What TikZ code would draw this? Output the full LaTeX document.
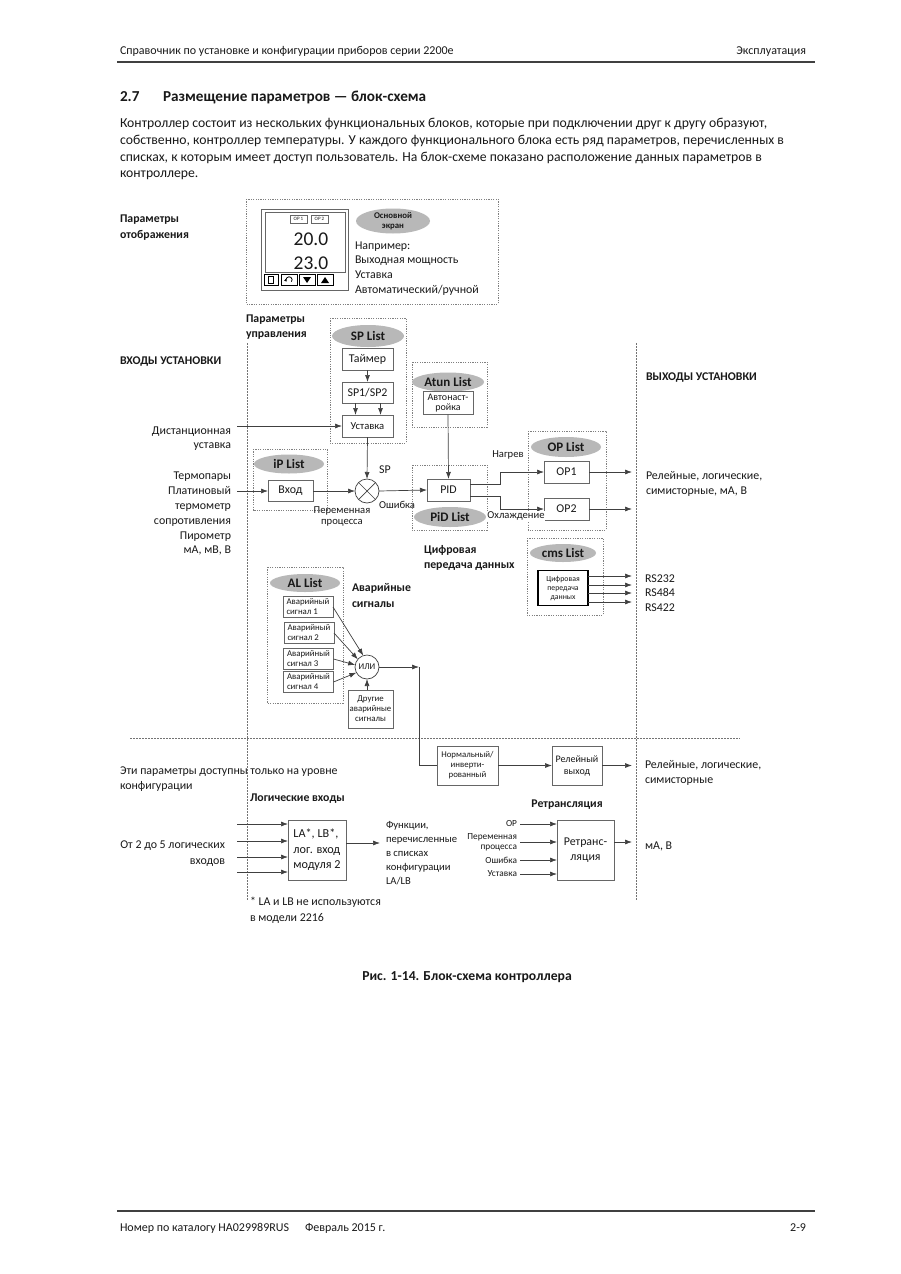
\documentclass[tikz,border=0pt]{standalone}
\usepackage{fontspec}
\setmainfont{Carlito}
\usetikzlibrary{arrows.meta,shapes.geometric,calc}
\begin{document}
\begin{tikzpicture}[x=1pt,y=-1pt,
  every node/.style={inner sep=0pt, outer sep=0pt, text=black!90},
  dbox/.style={draw=black!50, line width=0.7pt, dash pattern=on 1.2pt off 1.2pt},
  dline/.style={draw=black!55, line width=0.7pt, dash pattern=on 1.5pt off 1.5pt},
  blk/.style={draw=black!60, line width=0.7pt, fill=white, align=center},
  lst/.style={ellipse, fill=black!28, font=\fontsize{13}{13}\selectfont\bfseries, minimum width=72, minimum height=20},
  arr/.style={draw=black!75, line width=0.7pt, -{Latex[length=7pt,width=5pt]}},
  ln/.style={draw=black!75, line width=0.7pt},
  T/.style={font=\fontsize{11.9}{15}\selectfont},
  S/.style={font=\fontsize{10.6}{11.5}\selectfont},
  XS/.style={font=\fontsize{8.8}{10}\selectfont},
  RS/.style={font=\fontsize{9.3}{10}\selectfont},
  B/.style={font=\fontsize{11.8}{14}\selectfont\bfseries},
  P/.style={font=\fontsize{13.7}{17}\selectfont, anchor=base west}
]
\useasboundingbox (0,0) rectangle (900,1274);
\fill[white] (0,0) rectangle (900,1274);

% header
\node[anchor=base west, font=\fontsize{12}{14}\selectfont] (hd1) at (120,54) {Справочник по установке и конфигурации приборов серии 2200e};
\node[anchor=base east, font=\fontsize{12}{14}\selectfont] (hd2) at (806,54) {Эксплуатация};
\draw[line width=1.8pt, black!75] (117,62) -- (815,62);

% section
\node[anchor=base west, font=\fontsize{15.2}{17}\selectfont\bfseries] (secn) at (120,101) {2.7};
\node[anchor=base west, font=\fontsize{15.2}{17}\selectfont\bfseries] (sect) at (163,101) {Размещение параметров — блок-схема};
\node[P] (p1) at (120,127) {Контроллер состоит из нескольких функциональных блоков, которые при подключении друг к другу образуют,};
\node[P] (p2) at (120,144) {собственно, контроллер температуры. У каждого функционального блока есть ряд параметров, перечисленных в};
\node[P] (p3) at (120,161) {списках, к которым имеет доступ пользователь. На блок-схеме показано расположение данных параметров в};
\node[P] (p4) at (120,177) {контроллере.};

% display
\node[B, anchor=base west] (pd1) at (120,222) {Параметры};
\node[B, anchor=base west] (pd2) at (120,238) {отображения};
\draw[dbox] (246,199) rectangle (498,304);
\draw[black!60, line width=0.7pt] (261,209) rectangle (348,290);
\draw[black!60, line width=0.7pt] (265,212) rectangle (345,272);
\node[draw=black!60, line width=0.4pt, minimum width=17, minimum height=8, font=\fontsize{5}{5}\selectfont] (op1s) at (298.5,219) {OP 1};
\node[draw=black!60, line width=0.4pt, minimum width=17, minimum height=8, font=\fontsize{5}{5}\selectfont] (op2s) at (319.5,219) {OP 2};
\node[font=\fontsize{19.5}{20}\selectfont] (v1) at (311,239) {20.0};
\node[font=\fontsize{19.5}{20}\selectfont] (v2) at (311,263) {23.0};
\draw[black, line width=1pt] (264,274) rectangle (278,285);
\draw[black, line width=1pt] (281,274) rectangle (297,285);
\draw[black, line width=1pt] (299,274) rectangle (315,285);
\draw[black, line width=1pt] (317,274) rectangle (333,285);
\draw[black, line width=0.5pt] (268.5,276.5) rectangle (273.5,283);
\draw[black, line width=0.8pt, -{Latex[length=2.5pt,width=3pt]}] (291.4,281.7) arc[start angle=-40, end angle=220, x radius=3pt, y radius=3pt];
\fill[black] (303,277) -- (311,277) -- (307,283) -- cycle;
\fill[black] (321,283) -- (329,283) -- (325,277) -- cycle;
\node[ellipse, fill=black!28, minimum width=74, minimum height=25, align=center, font=\fontsize{8.8}{10}\selectfont\bfseries] (mainscr) at (393,221) {Основной\\экран};
\node[T, anchor=base west] (ex1) at (355,249) {Например:};
\node[T, anchor=base west] (ex2) at (355,263) {Выходная мощность};
\node[T, anchor=base west] (ex3) at (355,278) {Уставка};
\node[T, anchor=base west] (ex4) at (355,293) {Автоматический/ручной};

% section labels
\node[B, anchor=base west] (pu1) at (246,322) {Параметры};
\node[B, anchor=base west] (pu2) at (246,337) {управления};
\node[B, anchor=base west] (inst) at (120,364) {ВХОДЫ УСТАНОВКИ};
\node[B, anchor=base west] (outst) at (646,380) {ВЫХОДЫ УСТАНОВКИ};

% dashed boundaries
\draw[dline] (247,343) -- (247,900);
\draw[dline] (636,343) -- (636,900);
\draw[dline] (130,738) -- (740,738);

% SP list
\draw[dbox] (330,318) rectangle (406,443);
\node[lst, minimum height=22] (spl) at (368,336) {SP List};
\node[blk, T, minimum width=51, minimum height=22] (timer) at (367.5,359) {Таймер};
\node[blk, T, minimum width=51, minimum height=21] (sp12) at (367.5,392.5) {SP1/SP2};
\node[blk, S, minimum width=51, minimum height=22] (ust) at (367.5,426) {Уставка};
\draw[arr] (timer) -- (sp12);
\draw[arr] ([xshift=-12pt]sp12.south) -- ([xshift=-12pt]ust.north);
\draw[arr] ([xshift=13pt]sp12.south) -- ([xshift=13pt]ust.north);

% Atun
\draw[dbox] (412,362) rectangle (487,427);
\node[lst, minimum height=19] (atl) at (448,382) {Atun List};
\node[blk, font=\fontsize{10}{10.5}\selectfont, minimum width=50, minimum height=23] (atun) at (448,403) {Автонаст-\\ройка};

% remote setpoint
\node[T, anchor=base east] (ds1) at (231,434) {Дистанционная};
\node[T, anchor=base east] (ds2) at (231,448) {уставка};
\coordinate (dsin) at (237,426);
\draw[arr] (dsin) -- (ust.west);

% IP list
\draw[dbox] (253,449) rectangle (327,510);
\node[lst, minimum width=70, minimum height=19] (ipl) at (289,464) {iP List};
\node[blk, T, minimum width=45, minimum height=21] (vhod) at (290.5,491) {Вход};
\node[T, anchor=base east] (in1) at (231,479) {Термопары};
\node[T, anchor=base east] (in2) at (231,494) {Платиновый};
\node[T, anchor=base east] (in3) at (231,509) {термометр};
\node[T, anchor=base east] (in4) at (231,524) {сопротивления};
\node[T, anchor=base east] (in5) at (231,539) {Пирометр};
\node[T, anchor=base east] (in6) at (231,553) {мА, мВ, В};
\coordinate (inp) at (237,491);
\draw[arr] (inp) -- (vhod.west);

% summing junction
\node[circle, draw=black!75, line width=0.7pt, minimum size=24, fill=white] (sum) at (367,491) {};
\draw[ln] (sum.45) -- (sum.225);
\draw[ln] (sum.135) -- (sum.315);
\draw[arr] (vhod.east) -- (sum.west);
\draw[arr] (ust.south) -- (sum.north);
\node[T] (splab) at (385,470) {SP};
\node[S] (err) at (397,505) {Ошибка};
\node[S] (pv1) at (342,511) {Переменная};
\node[S] (pv2) at (342,523) {процесса};

% PID
\draw[dbox] (412,465) rectangle (487,530);
\node[blk, T, minimum width=43, minimum height=22] (pid) at (448.5,490) {PID};
\node[lst] (pidl) at (450,517) {PiD List};
\draw[arr] (sum.east) -- (pid.west);
\draw[arr] (atun.south) -- (pid.north);

% OP list
\draw[dbox] (528,431) rectangle (606,530);
\node[lst, minimum width=70] (opl) at (566,447) {OP List};
\node[blk, T, minimum width=45, minimum height=22] (op1) at (566.5,472) {OP1};
\node[blk, T, minimum width=45, minimum height=22] (op2) at (566.5,509) {OP2};
\draw[arr] ([yshift=6pt]pid.east) -- ++(30,0) |- (op1.west);
\draw[arr] ([yshift=-6pt]pid.east) -- ++(30,0) |- (op2.west);
\node[S] (heat) at (508,455) {Нагрев};
\node[S, fill=white, inner sep=0.5pt] (cool) at (516,516) {Охлаждение};
\coordinate (o1) at (632,472);
\coordinate (o2) at (632,509);
\draw[arr] (op1.east) -- (o1);
\draw[arr] (op2.east) -- (o2);
\node[T, anchor=base west] (rl1) at (646,479) {Релейные, логические,};
\node[T, anchor=base west] (rl2) at (646,494) {симисторные, мА, В};

% comms
\node[B, anchor=base west] (dc1) at (424,553) {Цифровая};
\node[B, anchor=base west] (dc2) at (424,568) {передача данных};
\draw[dbox] (527,538) rectangle (603,615);
\node[lst, minimum width=66, minimum height=18] (cmsl) at (563,553) {cms List};
\node[blk, draw=black, line width=1.2pt, minimum width=50, minimum height=35, font=\fontsize{7.8}{9}\selectfont] (dcom) at (563,588) {Цифровая\\передача\\данных};
\coordinate (c1) at (632,576);
\coordinate (c2) at (632,585);
\coordinate (c3) at (632,593);
\coordinate (c4) at (632,602);
\draw[arr] (dcom.east |- c1) -- (c1);
\draw[arr] (dcom.east |- c2) -- (c2);
\draw[arr] (dcom.east |- c3) -- (c3);
\draw[arr] (dcom.east |- c4) -- (c4);
\node[T, anchor=base west] (rs1) at (645,582) {RS232};
\node[T, anchor=base west] (rs2) at (645,596) {RS484};
\node[T, anchor=base west] (rs3) at (645,611) {RS422};

% alarms
\draw[dbox] (267,567) rectangle (343,703);
\node[lst, minimum width=70, minimum height=18] (all) at (305,583) {AL List};
\node[blk, XS, align=left, minimum width=50, minimum height=21] (al1) at (308,607) {Аварийный\\сигнал 1};
\node[blk, XS, align=left, minimum width=50, minimum height=21] (al2) at (309,633) {Аварийный\\сигнал 2};
\node[blk, XS, align=left, minimum width=50, minimum height=21] (al3) at (308.5,659) {Аварийный\\сигнал 3};
\node[blk, XS, align=left, minimum width=50, minimum height=21] (al4) at (308.5,682) {Аварийный\\сигнал 4};
\node[B, anchor=base west] (as1) at (352,591) {Аварийные};
\node[B, anchor=base west] (as2) at (352,607) {сигналы};
\node[circle, draw=black!75, line width=0.7pt, minimum size=24, fill=white, font=\fontsize{8.8}{9}\selectfont] (or) at (367,667) {ИЛИ};
\node[blk, XS, minimum width=45, minimum height=38] (oth) at (370.5,709) {Другие\\аварийные\\сигналы};
\draw[arr] (al1.east) -- (or.108);
\draw[arr] (al2.east) -- (or.140);
\draw[arr] (al3.east) -- (or.170);
\draw[arr] (al4.east) -- (or.208);
\draw[arr] (oth.north -| or.south) -- (or.south);
\coordinate (j1) at (419,667);
\draw[arr] (or.east) -- (j1);

% relay
\node[blk, XS, minimum width=61, minimum height=39] (norm) at (467.5,765.5) {Нормальный/\\инверти-\\рованный};
\node[blk, font=\fontsize{10}{12}\selectfont, minimum width=50, minimum height=39] (relay) at (577,765.5) {Релейный\\выход};
\draw[ln] (j1) |- (norm.west);
\draw[arr] (norm.east) -- (relay.west);
\coordinate (ro1) at (632,765.5);
\draw[arr] (relay.east) -- (ro1);
\node[T, anchor=base west] (rr1) at (645,768) {Релейные, логические,};
\node[T, anchor=base west] (rr2) at (645,783) {симисторные};
\node[T, anchor=base west] (cf1) at (120,774) {Эти параметры доступны только на уровне};
\node[T, anchor=base west] (cf2) at (120,789) {конфигурации};

% logic inputs
\node[B, anchor=base west] (lgt) at (250,801) {Логические входы};
\node[blk, font=\fontsize{12.2}{15.5}\selectfont, align=left, minimum width=58, minimum height=60] (lg) at (317,850) {LA*, LB*,\\лог. вход\\модуля 2};
\coordinate (l1) at (237,824);
\coordinate (l2) at (237,841);
\coordinate (l3) at (237,857);
\coordinate (l4) at (237,872);
\draw[arr] (l1) -- (lg.west |- l1);
\draw[arr] (l2) -- (lg.west |- l2);
\draw[arr] (l3) -- (lg.west |- l3);
\draw[arr] (l4) -- (lg.west |- l4);
\node[T, anchor=base east] (lin1) at (225,848) {От 2 до 5 логических};
\node[T, anchor=base east] (lin2) at (225,864) {входов};
\coordinate (lgo) at (380,843);
\draw[arr] (lg.east |- lgo) -- (lgo);
\node[S, anchor=base west] (fn1) at (386,828) {Функции,};
\node[S, anchor=base west] (fn2) at (386,842) {перечисленные};
\node[S, anchor=base west] (fn3) at (386,856) {в списках};
\node[S, anchor=base west] (fn4) at (386,870) {конфигурации};
\node[S, anchor=base west] (fn5) at (386,884) {LA/LB};
\node[T, anchor=base west] (nt1) at (250,905) {* LA и LB не используются};
\node[T, anchor=base west] (nt2) at (250,921) {в модели 2216};

% retransmission
\node[B] (rtt) at (567,805) {Ретрансляция};
\node[blk, T, minimum width=57, minimum height=60] (rt) at (585.5,850) {Ретранс-\\ляция};
\coordinate (r1) at (520,824);
\coordinate (r2) at (520,842);
\coordinate (r3) at (520,860);
\coordinate (r4) at (520,874);
\draw[arr] (r1) -- (rt.west |- r1);
\draw[arr] (r2) -- (rt.west |- r2);
\draw[arr] (r3) -- (rt.west |- r3);
\draw[arr] (r4) -- (rt.west |- r4);
\node[RS, anchor=east] (rl_op) at (517,824) {OP};
\node[RS, anchor=east] (rl_pv1) at (517,837) {Переменная};
\node[RS, anchor=east] (rl_pv2) at (517,848) {процесса};
\node[RS, anchor=east] (rl_er) at (517,860) {Ошибка};
\node[RS, anchor=east] (rl_sp) at (517,874) {Уставка};
\coordinate (rto) at (632,842);
\draw[arr] (rt.east |- rto) -- (rto);
\node[T, anchor=base west] (ma) at (645,849) {мА, В};

% caption and footer
\node[font=\fontsize{13.7}{15}\selectfont\bfseries] (cap) at (467,977) {Рис. 1-14. Блок-схема контроллера};
\draw[line width=1.5pt, black!75] (117,1211) -- (815,1211);
\node[anchor=base west, font=\fontsize{12}{14}\selectfont] (ft1) at (120,1231) {Номер по каталогу HA029989RUS};
\node[anchor=base west, font=\fontsize{12}{14}\selectfont] (ft2) at (305,1231) {Февраль 2015 г.};
\node[anchor=base east, font=\fontsize{12}{14}\selectfont] (ft3) at (806,1231) {2-9};
\end{tikzpicture}
\end{document}
